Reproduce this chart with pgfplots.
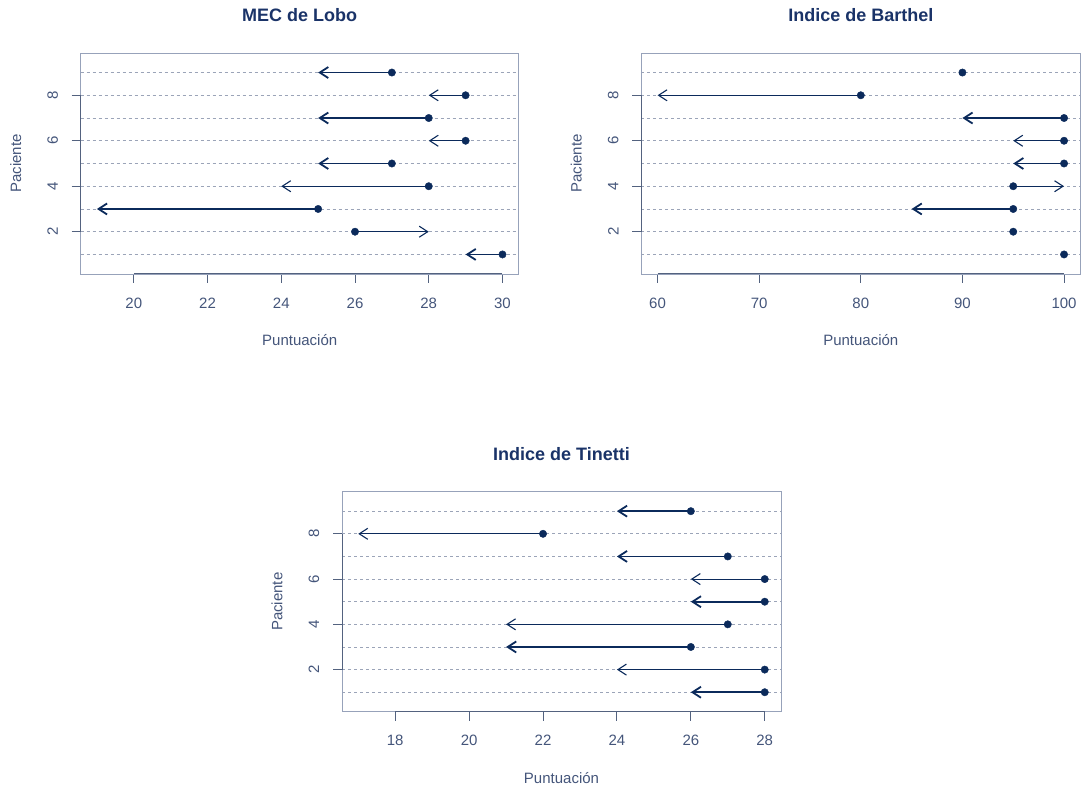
\documentclass[border=0pt]{standalone}
\usepackage{fontspec}
\setmainfont{Liberation Sans}
\usepackage{pgfplots}
\pgfplotsset{compat=1.18}
\usetikzlibrary{arrows.meta}

\definecolor{navy}{HTML}{0B2A5B}
\definecolor{titlecol}{HTML}{1A3368}
\definecolor{textcol}{HTML}{44557A}
\definecolor{gridcol}{HTML}{9BA4B8}
\definecolor{boxcol}{HTML}{97A2BA}
\definecolor{axiscol}{HTML}{53627F}

\pgfplotsset{
  rstyle/.style={
    anchor=south west, scale only axis,
    ymin=0.14, ymax=9.86,
    ytick={2,4,6,8}, minor ytick={1,3,5,7,9},
    ymajorgrids, yminorgrids,
    major grid style={gridcol, dash pattern=on 3pt off 3pt, line width=0.9pt},
    minor grid style={gridcol, dash pattern=on 3pt off 3pt, line width=0.9pt},
    axis line style={boxcol, line width=0.9pt},
    tick align=outside, major tick length=9pt, minor tick length=0pt,
    major tick style={axiscol, line width=0.9pt},
    xtick pos=bottom, ytick pos=left,
    clip=false,
    font=\fontsize{15}{18}\selectfont,
    /pgf/number format/assume math mode=true,
    ticklabel style={textcol, font=\fontsize{15}{18}\selectfont},
    xticklabel style={anchor=center, yshift=-20pt},
    yticklabel style={anchor=center, xshift=-19pt, rotate=90},
    xlabel={Puntuación}, ylabel={Paciente},
    xlabel style={textcol, at={(axis description cs:0.5,0)}, anchor=center, yshift=-66pt},
    ylabel style={textcol, at={(axis description cs:0,0.5)}, anchor=center, yshift=65pt},
    title style={titlecol, font=\fontsize{18}{21}\selectfont\bfseries,
      at={(axis description cs:0.5,1)}, anchor=center, yshift=32pt},
  },
  thickarrow/.style={navy, line width=1.8pt, quiver={u=\thisrow{d},v=0},
    -{Straight Barb[length=8.5pt,width=11pt]}},
  thinarrow/.style={navy, line width=1.1pt, quiver={u=\thisrow{d},v=0},
    -{Straight Barb[length=8.5pt,width=11pt]}},
  dots/.style={only marks, mark=*, mark size=3.7pt, navy},
}

\begin{document}
\begin{tikzpicture}
\useasboundingbox (0,0) rectangle (1083pt,785pt);

% MEC de Lobo
\begin{axis}[rstyle, at={(80.7pt,511pt)}, width=438pt, height=221pt,
  xmin=18.56, xmax=30.44, xtick={20,22,...,30}, title={MEC de Lobo}]
\draw[axiscol, line width=1pt] (axis cs:20,0.14) -- (axis cs:30,0.14);
\draw[axiscol, line width=1pt] (axis cs:18.56,2) -- (axis cs:18.56,8);
\addplot[thickarrow] table {
x y d
27 9 -2
28 7 -3
27 5 -2
25 3 -6
30 1 -1
};
\addplot[thinarrow] table {
x y d
29 8 -1
29 6 -1
28 4 -4
26 2 2
};
\addplot[dots] table {
x y
27 9
29 8
28 7
29 6
27 5
28 4
25 3
26 2
30 1
};
\end{axis}

% Indice de Barthel
\begin{axis}[rstyle, at={(641.3pt,511pt)}, width=439pt, height=221pt,
  xmin=58.4, xmax=101.6, xtick={60,70,...,100}, title={Indice de Barthel}]
\draw[axiscol, line width=1pt] (axis cs:60,0.14) -- (axis cs:100,0.14);
\draw[axiscol, line width=1pt] (axis cs:58.4,2) -- (axis cs:58.4,8);
\addplot[thickarrow] table {
x y d
100 7 -10
100 5 -5
95 3 -10
};
\addplot[thinarrow] table {
x y d
80 8 -20
100 6 -5
95 4 5
};
\addplot[dots] table {
x y
90 9
80 8
100 7
100 6
100 5
95 4
95 3
95 2
100 1
};
\end{axis}

% Indice de Tinetti
\begin{axis}[rstyle, at={(342pt,73.3pt)}, width=439pt, height=220pt,
  xmin=16.56, xmax=28.44, xtick={18,20,...,28}, title={Indice de Tinetti}]
\draw[axiscol, line width=1pt] (axis cs:18,0.14) -- (axis cs:28,0.14);
\draw[axiscol, line width=1pt] (axis cs:16.56,2) -- (axis cs:16.56,8);
\addplot[thickarrow] table {
x y d
26 9 -2
27 7 -3
28 5 -2
26 3 -5
28 1 -2
};
\addplot[thinarrow] table {
x y d
22 8 -5
28 6 -2
27 4 -6
28 2 -4
};
\addplot[dots] table {
x y
26 9
22 8
27 7
28 6
28 5
27 4
26 3
28 2
28 1
};
\end{axis}
\end{tikzpicture}
\end{document}
